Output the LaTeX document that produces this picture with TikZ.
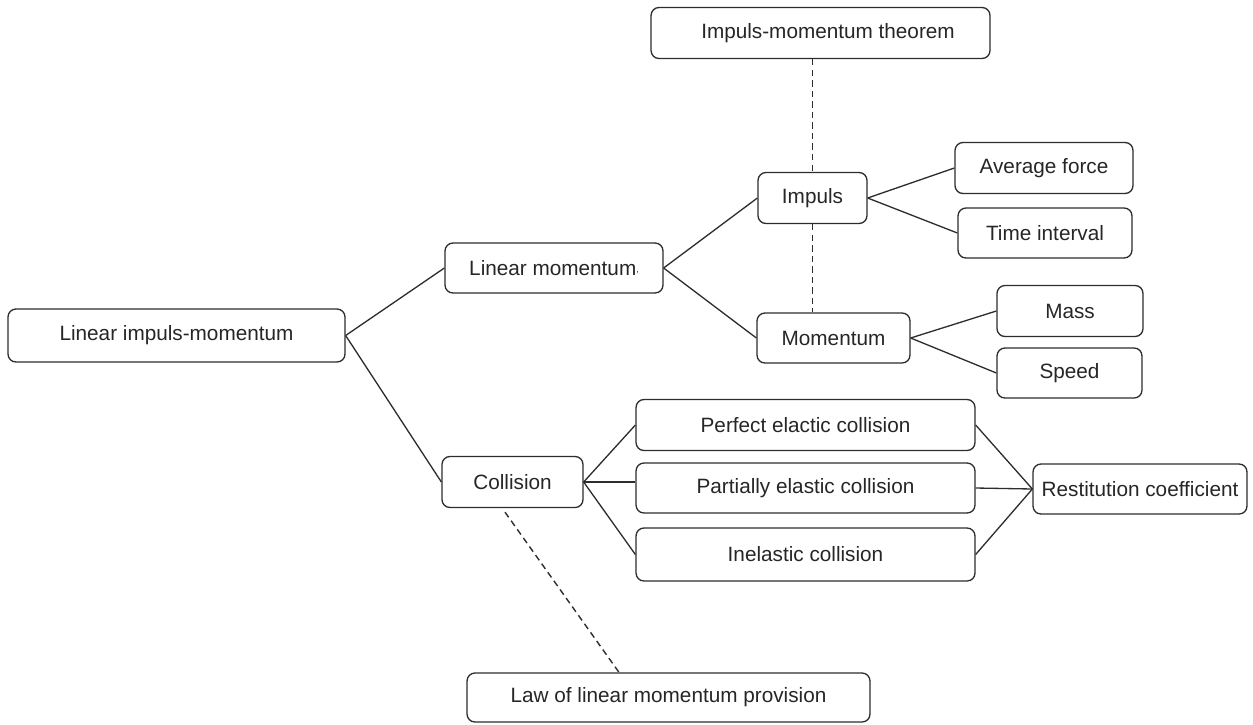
\documentclass[tikz,border=0pt]{standalone}
\usepackage{fontspec}
\setmainfont{Liberation Sans}
\usepackage{tikz}
\usetikzlibrary{calc}

\definecolor{linegray}{RGB}{45,45,45}

\begin{document}
\begin{tikzpicture}[x=0.02cm,y=-0.02cm,
  box/.style={draw=linegray,rounded corners=4.5pt,line width=0.75pt,fill=white,
    minimum height=1.02cm,inner sep=2pt,font=\fontsize{11.8}{14}\selectfont,text=black!85},
  link/.style={draw=linegray,line width=0.75pt},
  hint/.style={draw=linegray,line width=0.8pt,dash pattern=on 3.6pt off 2.4pt}]
\useasboundingbox (0,0) rectangle (1253,724);
% the boxes
\node[box,minimum width=6.74cm,minimum height=1.06cm] (lim) at (176.5,335.5) {Linear impuls-momentum};
\node[box,minimum width=4.36cm,minimum height=1.0cm] (lm) at (554,268) {Linear momentum{\tiny\raisebox{0.6ex}{,}}};
\node[box,minimum width=2.82cm] (coll) at (512.5,482) {Collision};
\node[box,minimum width=6.78cm] (thm) at (820.5,33) {\hspace{0.3cm}Impuls-momentum theorem};
\node[box,minimum width=2.18cm] (imp) at (812.5,198) {Impuls};
\node[box,minimum width=3.06cm,minimum height=1.0cm] (mom) at (833.5,338) {Momentum};
\node[box,minimum width=3.56cm] (af) at (1044,168) {Average force};
\node[box,minimum width=3.48cm,minimum height=1.0cm] (ti) at (1045,233) {Time interval};
\node[box,minimum width=2.92cm] (mass) at (1070,311) {Mass};
\node[box,minimum width=2.90cm,minimum height=1.0cm] (speed) at (1069.5,373) {Speed};
\node[box,minimum width=6.78cm] (pec) at (805.5,425) {Perfect elactic collision};
\node[box,minimum width=6.78cm,minimum height=1.0cm] (pac) at (805.5,488) {Partially elastic collision};
\node[box,minimum width=6.78cm,minimum height=1.06cm] (ine) at (805.5,554.5) {Inelastic collision};
\node[box,minimum width=4.28cm,minimum height=1.0cm] (rc) at (1140,489) {Restitution coefficient};
\node[box,minimum width=8.06cm,minimum height=0.98cm] (law) at (668.5,697.5) {Law of linear momentum provision};
% the links
\draw[link] (lim.east) -- (lm.west);
\draw[link] (lim.east) -- (coll.west);
\draw[link] (lm.east) -- (imp.west);
\draw[link] (lm.east) -- (mom.west);
\draw[link] (imp.east) -- (af.west);
\draw[link] (imp.east) -- (ti.west);
\draw[link] (mom.east) -- (mass.west);
\draw[link] (mom.east) -- (speed.west);
\draw[link] (coll.east) -- (pec.west);
\draw[link] (coll.east) -- (coll.east -| pac.west);
\draw[link] (coll.east) -- (ine.west);
\foreach \c in {pec,pac,ine}
  \draw[link] (\c.east) -- (rc.west);
% dashed hints
\draw[hint] (imp.north |- thm.south) -- (imp.north);
\draw[hint] (imp.south) -- (imp.south |- mom.north);
\coordinate (collfoot) at ($(coll.south)+(-7.5,4)$);
\draw[hint] (collfoot) -- ($(law.north)+(-49.5,0)$);
\end{tikzpicture}
\end{document}
